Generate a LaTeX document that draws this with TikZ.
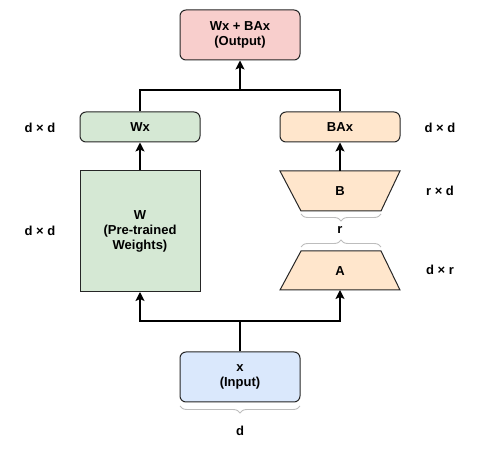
\documentclass[tikz,border=0pt]{standalone}
\usepackage{fontspec}
\setmainfont{Liberation Sans}
\usetikzlibrary{arrows.meta,decorations.pathreplacing}
\definecolor{outc}{HTML}{F8CECC}
\definecolor{grc}{HTML}{D5E8D4}
\definecolor{orc}{HTML}{FFE6CC}
\definecolor{blc}{HTML}{DAE8FC}
\definecolor{brc}{HTML}{BDBDBD}
\begin{document}
\begin{tikzpicture}[x=1pt,y=-1pt,
  txt/.style={font=\fontsize{13}{15}\selectfont\bfseries, align=center, inner sep=0pt},
  box/.style={txt, draw=black!85, line width=1pt, rounded corners=6pt},
  shp/.style={draw=black!85, line width=1pt},
  conn/.style={line width=1.5pt, black},
  arr/.style={-{Stealth[length=9pt,width=9pt,inset=2pt]}},
  brace/.style={draw=brc, line width=0.9pt, decorate, decoration={brace, amplitude=7pt}}]
\useasboundingbox (0,0) rectangle (480,454);
% boxes
\node[box, fill=outc, minimum width=120pt, minimum height=50pt] (out) at (240,35) {Wx + BAx\\(Output)};
\node[box, fill=grc, minimum width=120pt, minimum height=30pt] (wx) at (140,127) {Wx};
\node[box, fill=grc, rounded corners=0pt, minimum width=120pt, minimum height=121pt] (w) at (140,231) {W\\(Pre-trained\\Weights)};
\node[box, fill=orc, minimum width=120pt, minimum height=30pt] (bax) at (340,127) {BAx};
\node[box, fill=blc, minimum width=120pt, minimum height=50pt] (x) at (240,377) {x\\(Input)};
% trapezoids
\draw[shp, fill=orc] (280,171) -- (400,171) -- (381,211) -- (301,211) -- cycle;
\node[txt] (b) at (340,191) {B};
\coordinate (btop) at (340,171);
\draw[shp, fill=orc] (301,251) -- (381,251) -- (400,290) -- (280,290) -- cycle;
\node[txt] (a) at (340,271) {A};
\coordinate (abot) at (340,290);
% connectors
\coordinate (split) at (240,321);
\coordinate (merge) at (240,90);
\draw[conn] (x.north) -- (split);
\draw[conn,arr] (split) -| (w.south);
\draw[conn,arr] (split) -| (abot);
\draw[conn,arr] (w.north) -- (wx.south);
\draw[conn,arr] (btop) -- (bax.south);
\draw[conn] (wx.north) |- (merge);
\draw[conn] (bax.north) |- (merge);
\draw[conn,arr] (merge) -- (out.south);
% braces
\coordinate (bl1) at (381,214); \coordinate (bl2) at (301,214);
\draw[brace] (bl1) -- (bl2);
\coordinate (al1) at (301,247); \coordinate (al2) at (381,247);
\draw[brace] (al1) -- (al2);
\coordinate (xl1) at (300,406); \coordinate (xl2) at (180,406);
\draw[brace] (xl1) -- (xl2);
% labels
\node[txt] (r) at (340,230) {r};
\node[txt] (d) at (240,431) {d};
\node[txt] (l1) at (40,128) {d × d};
\node[txt] (l2) at (40,231) {d × d};
\node[txt] (l3) at (440,128) {d × d};
\node[txt] (l4) at (440,191) {r × d};
\node[txt] (l5) at (440,270) {d × r};
\end{tikzpicture}
\end{document}
